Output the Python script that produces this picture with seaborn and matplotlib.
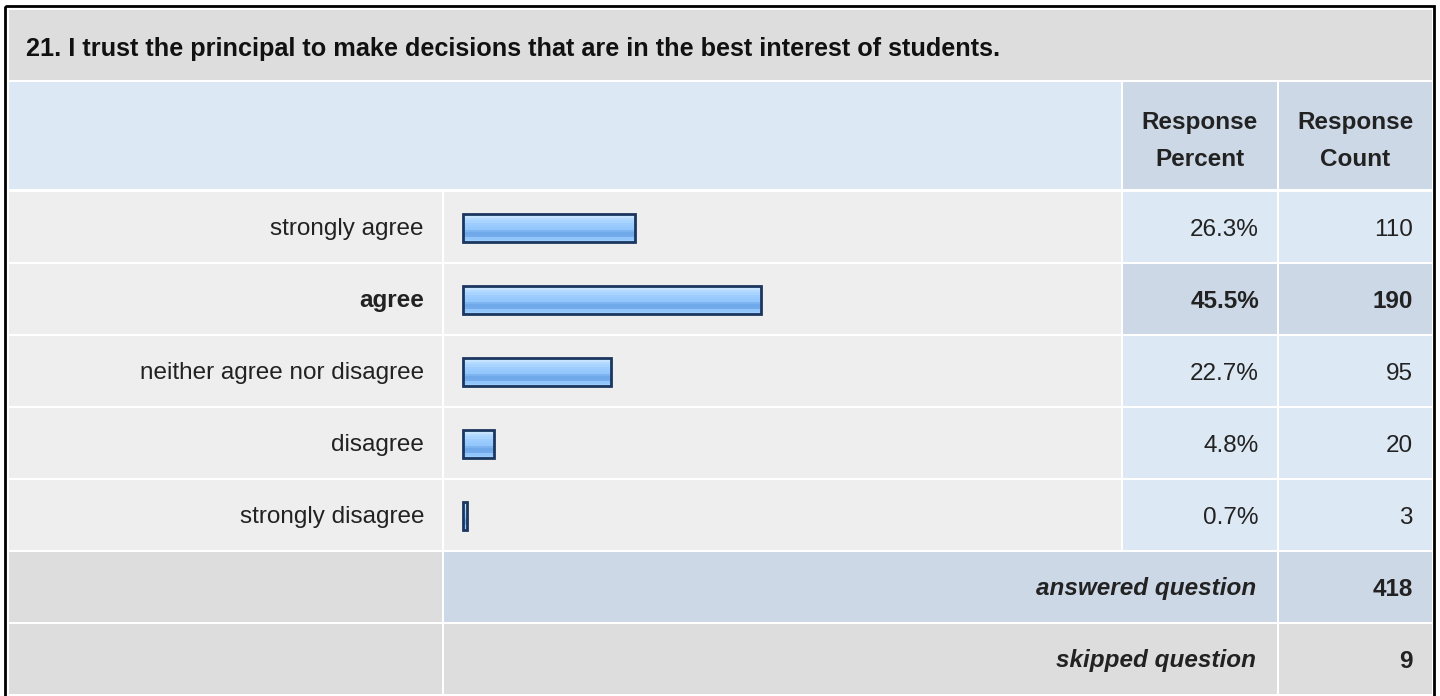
import numpy as np
import matplotlib
matplotlib.use("Agg")
import matplotlib.pyplot as plt
import seaborn as sns
from matplotlib.patches import Rectangle
from matplotlib.colors import to_rgb

# -----------------------------
#  Data
# -----------------------------
TITLE = "21. I trust the principal to make decisions that are in the best interest of students."
ANSWERS = ["strongly agree", "agree", "neither agree nor disagree",
           "disagree", "strongly disagree"]
PERCENTS = [26.3, 45.5, 22.7, 4.8, 0.7]
COUNTS = [110, 190, 95, 20, 3]
HEADERS = [("Response", "Percent"), ("Response", "Count")]
ANSWERED = 418
SKIPPED = 9

# -----------------------------
#  Style
# -----------------------------
sns.set_style("white")
plt.rcParams["font.family"] = ["Liberation Sans", "DejaVu Sans"]

GRAY = "#dddddd"
LIGHT = "#eeeeee"
BLUE = "#dde8f5"
BLUE_DARK = "#ccd8e6"
TXT = "#222222"
BODY = 17.5
BAR_EDGE = "#1b365f"
BAR_GRAD = ["#d3ebff", "#c6e3ff", "#b4daff", "#a9d4ff", "#9dcdff", "#99cbff",
            "#94c7fc", "#7db4f0", "#70a9ea", "#73abeb", "#92c5fa", "#9ccdff"]

W, H = 1440, 696
COLS = [(9, 441.5), (444, 1120.5), (1123, 1276.5), (1279, 1432)]
ROW0, PITCH, ROWH = 192, 72, 70

fig = plt.figure(figsize=(W / 100, H / 100), dpi=100)
fig.patch.set_facecolor("white")
bg = fig.add_axes([0, 0, 1, 1])
bg.set_xlim(0, W)
bg.set_ylim(H, 0)
bg.axis("off")


def cell(x0, x1, y0, y1, color):
    bg.add_patch(Rectangle((x0, y0), x1 - x0, y1 - y0, facecolor=color,
                           edgecolor="none", zorder=1))


# outer frame
bg.add_patch(Rectangle((5, 6), 1429, 700, facecolor="none",
                       edgecolor="black", lw=2, zorder=5))

# title row
cell(9, 1432, 10, 80, GRAY)
bg.text(26, 56, TITLE, fontsize=18.2, fontweight="bold", color="#111111",
        ha="left", va="baseline")

# header row
cell(9, 1120.5, 82, 189, BLUE)
for (x0, x1), (l1, l2) in zip(COLS[2:], HEADERS):
    cell(x0, x1, 82, 189, BLUE_DARK)
    xc = (x0 + x1) / 2
    bg.text(xc, 128.5, l1, fontsize=BODY, fontweight="bold", color=TXT,
            ha="center", va="baseline")
    bg.text(xc, 166, l2, fontsize=BODY, fontweight="bold", color=TXT,
            ha="center", va="baseline")

# answer rows
top = int(np.argmax(COUNTS))
for i, (lab, pct, cnt) in enumerate(zip(ANSWERS, PERCENTS, COUNTS)):
    y0 = ROW0 + PITCH * i
    y1 = y0 + ROWH
    hi = i == top
    cell(*COLS[0], y0, y1, LIGHT)
    cell(*COLS[1], y0, y1, LIGHT)
    cell(*COLS[2], y0, y1, BLUE_DARK if hi else BLUE)
    cell(*COLS[3], y0, y1, BLUE_DARK if hi else BLUE)
    base = (y0 + y1) / 2 + 8.5
    w = "bold" if hi else "normal"
    bg.text(424, base, lab, fontsize=BODY, fontweight=w, color=TXT,
            ha="right", va="baseline")
    bg.text(1259, base, f"{pct:.1f}%", fontsize=BODY, fontweight=w, color=TXT,
            ha="right", va="baseline")
    bg.text(1413, base, f"{cnt}", fontsize=BODY, fontweight=w, color=TXT,
            ha="right", va="baseline")

# summary rows
for j, (lab, val, col) in enumerate([("answered question", ANSWERED, BLUE_DARK),
                                     ("skipped question", SKIPPED, GRAY)]):
    y0 = ROW0 + PITCH * (len(ANSWERS) + j)
    y1 = y0 + ROWH
    cell(*COLS[0], y0, y1, GRAY)
    cell(COLS[1][0], COLS[2][1], y0, y1, col)
    cell(*COLS[3], y0, y1, col)
    base = (y0 + y1) / 2 + 8.5
    bg.text(1256, base, lab, fontsize=BODY, fontweight="bold", style="italic",
            color=TXT, ha="right", va="baseline")
    bg.text(1413, base, f"{val}", fontsize=BODY, fontweight="bold",
            color=TXT, ha="right", va="baseline")

# -----------------------------
#  Bars
# -----------------------------
bx0, bx1 = COLS[1]
by0, by1 = ROW0, ROW0 + PITCH * len(ANSWERS)
ax = fig.add_axes([bx0 / W, 1 - by1 / H, (bx1 - bx0) / W, (by1 - by0) / H])
ax.patch.set_alpha(0)

sns.barplot(x=PERCENTS, y=ANSWERS, orient="h", width=28.5 / PITCH,
            color="#99cbff", edgecolor=BAR_EDGE, linewidth=2.0, ax=ax)

scale = 6.55  # px per percent
start = 462.5
xlim = ((bx0 - start) / scale, (bx1 - start) / scale)
ylim = (len(ANSWERS) - 0.5, -0.5)

grad = np.array([to_rgb(c) for c in BAR_GRAD])[:, None, :]
for p in ax.patches:
    x, y = p.get_x(), p.get_y()
    w, h = p.get_width(), p.get_height()
    im = ax.imshow(grad, extent=(x, x + w, y + h, y), origin="upper",
                   aspect="auto", interpolation="nearest", zorder=2)
    im.set_clip_path(p)
    p.set_facecolor("none")
    p.set_zorder(3)

ax.set_xlim(*xlim)
ax.set_ylim(*ylim)
ax.axis("off")

fig.savefig("out.png", dpi=100, facecolor="white")
